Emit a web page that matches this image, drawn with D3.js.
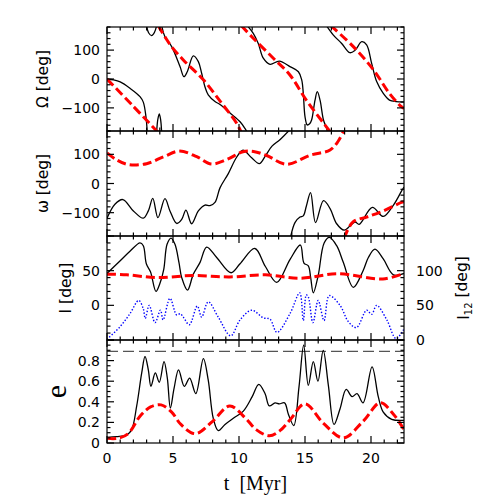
<!DOCTYPE html>
<html><head><meta charset="utf-8">
<script src="https://cdn.jsdelivr.net/npm/d3@7"></script>
<style>body{margin:0;background:#fff}svg{display:block}</style>
</head><body>
<svg id="c" width="498" height="498"></svg>
<script>
// ---------------- data (t in Myr) ----------------
const xTickLabels = [0, 5, 10, 15, 20];
const omegaTicks = [-100, 0, 100];
const argTicks = [-100, 0, 100];
const incTicks = [0, 50];
const i12Ticks = [0, 50, 100];
const eccTicks = [0, 0.2, 0.4, 0.6, 0.8];
const eccLimit = 0.89;

// Node longitude Omega (null = wrap break)
const omegaBlack = [[0,0],[0.5,-3],[1.0,-10],[1.74,-32],[2.5,-61],[2.75,-80],[2.95,-130],[3.05,-185],null,
  [3.0,185],[3.15,160],[3.38,150],[3.6,162],[3.76,185],null,
  [3.76,-185],[3.85,-140],[3.96,-121],[4.06,-140],[4.14,-185],null,
  [4.14,185],[4.39,146],[4.9,112],[5.53,43],[5.83,8],[6.08,25],[6.54,80],[6.92,60],[7.17,20],[7.42,-27],[7.67,-55],[8.18,-78],[8.56,-88],[9.32,-118],[10.08,-148],[10.45,-171],[10.62,-185],null,
  [10.62,185],[11.08,158],[11.46,123],[11.84,72],[12.35,51],[13.05,62],[13.86,43],[14.5,25],[14.75,-3],[14.87,-49],[15.0,-130],[15.17,-159],[15.35,-155],[15.5,-142],[15.76,-73],[15.93,-44],[16.14,-73],[16.4,-142],[16.64,-171],[16.7,-185],null,
  [16.62,185],[17.15,152],[17.78,123],[18.4,91],[18.8,100],[19.3,129],[19.67,118],[20.05,54],[20.43,-9],[20.93,-50],[21.4,-73],[21.9,-78],[22.5,-79]];
const omegaRed = [[0,0],[1.9,-90],[3.87,-185],null,
  [3.87,185],[4.39,146],[4.89,112],[5.78,66],[7.3,-3],[8.69,-84],[9.82,-153],[10.17,-185],null,
  [10.17,185],[11.08,141],[12.6,72],[13.86,14],[15.1,-73],[16.95,-185],null,
  [16.95,185],[18.66,112],[20.2,31],[21.4,-50],[22.3,-96],[22.5,-102]];

// Argument of pericentre omega
const argBlack = [[0,-119],[0.6,-71],[1.2,-55],[2.0,-94],[2.75,-119],[3.13,-94],[3.47,-51],[3.86,-117],[4.39,-52],[4.77,-94],[5.28,-137],[5.66,-123],[5.98,-91],[6.41,-138],[6.92,-94],[7.42,-74],[7.8,-76],[8.18,-65],[8.56,-15],[9.19,34],[9.82,90],[10.3,114],[10.96,88],[11.54,68],[12.0,95],[12.5,128],[13.1,150],[13.86,185],null,
  [13.9,-185],[14.24,-134],[14.62,-115],[14.87,-111],[15.1,-78],[15.42,-31],[15.8,-134],[16.4,-59],[16.9,-86],[17.4,-138],[17.97,-160],[18.4,-146],[18.8,-132],[19.1,-140],[20.1,-82],[20.93,-113],[21.7,-74],[22.3,-27],[22.5,-12]];
const argRed = [[0,105],[0.7,82],[1.6,65],[3.0,68],[4.3,92],[5.5,111],[6.8,92],[7.9,67],[9.07,82],[10.3,109],[11.1,110],[12.1,96],[13.6,66],[15.4,97],[16.9,115],[17.5,144],[17.9,178],[17.98,188],null,
  [18.0,-188],[18.05,-178],[18.66,-131],[19.67,-115],[20.93,-94],[22.3,-65],[22.5,-62]];

// Inclination I (left axis) and mutual inclination I12 (right axis)
const incBlack = [[0,46],[0.98,64],[1.74,78],[2.5,90],[2.75,86],[2.98,60],[3.3,48],[3.71,20],[4.0,31],[4.3,52],[4.55,88],[4.85,97],[5.15,88],[5.45,62],[5.66,40],[6.1,22],[6.54,45],[7.05,62],[7.55,84],[8.31,69],[9.4,47],[10.08,60],[11.2,82],[12.0,56],[12.86,33],[13.86,66],[14.65,87],[14.92,61],[15.25,57],[15.43,40],[15.63,18],[16.0,43],[16.45,90],[16.85,98],[17.4,86],[17.9,62],[18.66,26],[19.4,50],[19.8,69],[20.3,81],[20.93,67],[21.7,44],[22.5,46]];
const incRed = [[0,45],[1.5,44],[3.8,40],[6.5,43],[9.3,41],[12.0,44],[14.6,39],[17.5,45.5],[20.9,38],[22.5,46]];
const i12Blue = [[0,1],[0.98,19],[1.74,38],[2.4,57],[2.75,45],[2.9,31],[3.2,50],[3.64,25],[4.05,43],[4.25,29],[4.77,60],[5.28,36],[5.55,38],[5.78,33],[6.24,22],[6.84,49],[7.17,33],[7.67,55],[8.43,33],[9.37,6],[10.08,29],[10.96,43],[11.84,32],[12.35,30],[12.88,11],[13.86,38],[14.6,68],[14.87,28],[15.1,65],[15.25,62],[15.6,25],[16.0,57],[16.44,28],[16.84,64],[17.65,50],[18.3,26],[18.9,18],[19.67,43],[20.05,37],[20.43,50],[21.2,29],[21.9,2],[22.5,16]];

// Eccentricity e
const eccBlack = [[0,0.055],[0.73,0.062],[1.5,0.078],[1.87,0.13],[2.25,0.36],[2.63,0.68],[2.88,0.84],[3.13,0.71],[3.33,0.55],[3.66,0.68],[3.96,0.59],[4.32,0.79],[4.57,0.63],[4.8,0.34],[5.08,0.53],[5.42,0.71],[5.86,0.55],[6.26,0.63],[6.73,0.48],[7.3,0.82],[7.67,0.61],[8.05,0.24],[8.43,0.12],[8.94,0.18],[9.57,0.24],[10.33,0.31],[11.0,0.45],[11.5,0.57],[11.97,0.48],[12.3,0.36],[12.73,0.39],[13.05,0.38],[13.45,0.39],[13.74,0.28],[14.15,0.17],[14.55,0.55],[14.9,0.95],[15.25,0.56],[15.63,0.79],[15.98,0.6],[16.38,0.9],[16.77,0.56],[17.2,0.18],[17.65,0.33],[18.12,0.52],[18.57,0.45],[18.94,0.48],[19.4,0.39],[20.08,0.74],[20.55,0.45],[20.93,0.3],[21.57,0.23],[22.5,0.22]];
const eccRed = [[0,0.045],[0.8,0.045],[1.6,0.09],[2.5,0.26],[3.3,0.35],[4.1,0.37],[4.9,0.3],[5.6,0.18],[6.7,0.09],[8.0,0.21],[9.3,0.36],[10.5,0.24],[11.3,0.13],[12.3,0.07],[13.1,0.12],[13.9,0.23],[15.0,0.38],[16.4,0.19],[17.9,0.05],[19.4,0.21],[20.7,0.39],[21.7,0.28],[22.5,0.13]];

// ---------------- layout ----------------
const svg = d3.select("#c");
const X0 = 107, X1 = 404;
const x = d3.scaleLinear().domain([0, 22.5]).range([X0, X1]);
const FONT = "DejaVu Sans, sans-serif";

const panels = [
  {top:27, bot:131, dom:[-180,180], ticks:omegaTicks, minor:20, label:"Ω [deg]", lx:42, fmt:d=>d<0?"−"+(-d):d},
  {top:131, bot:236, dom:[-180,180], ticks:argTicks, minor:20, label:"ω [deg]", lx:42, fmt:d=>d<0?"−"+(-d):d},
  {top:236, bot:340, dom:[-50,100], ticks:incTicks, minor:10, label:"I [deg]", lx:65, fmt:d=>d},
  {top:340, bot:443, dom:[0,1], ticks:eccTicks, minor:0.05, label:"e", lx:55, fmt:d=>d===0?"0":d.toFixed(1)},
];
panels.forEach(p => { p.y = d3.scaleLinear().domain(p.dom).range([p.bot, p.top]); });
const yI12 = d3.scaleLinear().domain([0,150]).range([340, 236]);

const defs = svg.append("defs");
panels.forEach((p,i) => {
  defs.append("clipPath").attr("id","clip"+i).append("rect")
    .attr("x",X0).attr("y",p.top).attr("width",X1-X0).attr("height",p.bot-p.top);
});

function drawLine(i, data, yscale, style){
  const line = d3.line().defined(d => d !== null)
    .x(d => x(d[0])).y(d => yscale(d[1]))
    .curve(d3.curveCatmullRom.alpha(0.5));
  const path = svg.append("path").attr("clip-path","url(#clip"+i+")")
    .attr("d", line(data)).attr("fill","none");
  Object.entries(style).forEach(([k,v]) => path.attr(k,v));
}
const blackStyle = {stroke:"#000","stroke-width":1.3};
const redStyle = {stroke:"#ff0000","stroke-width":3,"stroke-dasharray":"9,4"};

drawLine(0, omegaBlack, panels[0].y, blackStyle);
drawLine(0, omegaRed, panels[0].y, redStyle);
drawLine(1, argBlack, panels[1].y, blackStyle);
drawLine(1, argRed, panels[1].y, redStyle);
drawLine(2, incBlack, panels[2].y, blackStyle);
drawLine(2, incRed, panels[2].y, redStyle);
drawLine(2, i12Blue, yI12, {stroke:"#0000ff","stroke-width":1.4,"stroke-dasharray":"1.4,1.8"});
// e limit dashed line
svg.append("line").attr("x1",X0).attr("x2",X1)
  .attr("y1",panels[3].y(eccLimit)).attr("y2",panels[3].y(eccLimit))
  .attr("stroke","#555").attr("stroke-width",1.2).attr("stroke-dasharray","11,5");
drawLine(3, eccBlack, panels[3].y, blackStyle);
drawLine(3, eccRed, panels[3].y, redStyle);

// ---------------- frames & ticks ----------------
const g = svg.append("g").attr("stroke","#000").attr("stroke-width",1.2);
function tick(x1,y1,x2,y2){ g.append("line").attr("x1",x1).attr("y1",y1).attr("x2",x2).attr("y2",y2); }
const MAJ = 7, MIN = 3.5;

panels.forEach((p,i) => {
  g.append("rect").attr("x",X0).attr("y",p.top).attr("width",X1-X0).attr("height",p.bot-p.top).attr("fill","none");
  for (let t = 0; t <= 22; t++) {
    const len = t % 5 === 0 ? MAJ : MIN;
    tick(x(t), p.bot, x(t), p.bot - len);
    tick(x(t), p.top, x(t), p.top + len);
  }
  const [d0,d1] = p.dom;
  const n0 = Math.ceil(d0/p.minor - 1e-6), n1 = Math.floor(d1/p.minor + 1e-6);
  const majorStep = p.ticks[1]-p.ticks[0];
  for (let k = n0; k <= n1; k++) {
    const v = k*p.minor;
    const isMaj = Math.abs(v/majorStep - Math.round(v/majorStep)) < 1e-6;
    const len = isMaj ? MAJ : MIN;
    tick(X0, p.y(v), X0+len, p.y(v));
    if (i !== 2) tick(X1, p.y(v), X1-len, p.y(v));
  }
  if (i === 2) {
    for (let v = 0; v <= 150; v += 10) {
      const len = v % 50 === 0 ? MAJ : MIN;
      tick(X1, yI12(v), X1-len, yI12(v));
    }
  }
  // tick labels
  p.ticks.forEach(v => {
    svg.append("text").attr("x", 100).attr("y", p.y(v)).attr("dy","0.36em")
      .attr("text-anchor","end").attr("font-family",FONT).attr("font-size",14)
      .text(p.fmt(v));
  });
  // axis label
  svg.append("text").attr("transform",`translate(${p.lx},${(p.top+p.bot)/2}) rotate(-90)`)
    .attr("text-anchor","middle").attr("dy","0.36em")
    .attr("font-family", i===3 ? "Liberation Serif, serif" : FONT)
    .attr("font-size", i===3 ? 30 : 15.5).text(p.label);
});

// right axis labels for I12
i12Ticks.forEach(v => {
  svg.append("text").attr("x", 416).attr("y", yI12(v)).attr("dy","0.36em")
    .attr("text-anchor","start").attr("font-family",FONT).attr("font-size",14).text(v);
});
const r = svg.append("text").attr("transform",`translate(463,${(236+340)/2}) rotate(-90)`)
  .attr("text-anchor","middle").attr("dy","0.36em").attr("font-family",FONT).attr("font-size",15.5);
r.append("tspan").text("I");
r.append("tspan").attr("font-size",10).attr("dy","0.35em").text("12");
r.append("tspan").attr("dy","-0.35em").text(" [deg]");

// x tick labels
xTickLabels.forEach(v => {
  svg.append("text").attr("x", x(v)).attr("y", 458).attr("dy","0.36em")
    .attr("text-anchor","middle").attr("font-family",FONT).attr("font-size",14).text(v);
});
svg.append("text").attr("x",(X0+X1)/2).attr("y",483).attr("dy","0.36em")
  .attr("text-anchor","middle").attr("font-family","Liberation Serif, serif").attr("font-size",20)
  .attr("xml:space","preserve").text("t  [Myr]");
</script>
</body></html>
